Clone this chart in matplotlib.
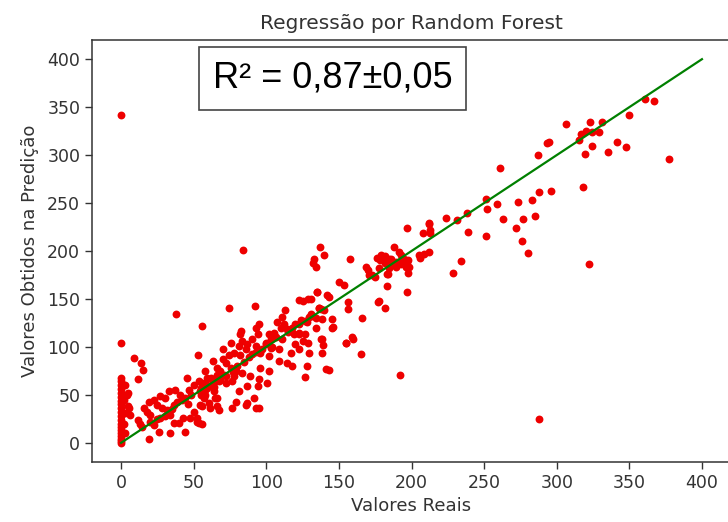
import matplotlib
matplotlib.use("Agg")
import matplotlib.pyplot as plt
import numpy as np

real_vals = [
    # vertical stack at x = 0
    0, 0, 0, 0, 0, 0, 0, 0, 0, 0, 0, 0, 0, 0, 0, 0, 0, 0, 0, 0, 0, 0,
    # near zero
    3, 4, 5, 6, 5, 5.5, 2, 3, 2, 3,
    9, 14, 15, 12, 12, 13, 14.5,
    # lower-left cluster
    15.6, 17.9, 20, 19, 22.5, 24.8, 27, 30.5, 28, 31.7, 34, 36.3, 38.6, 32.8, 37.4,
    40.8, 44, 46.6, 50, 53.5, 45.4, 54.6, 59, 65, 59, 68.4, 66, 66, 61.5, 54.6,
    50, 47.7, 52.3, 53.5, 43, 39.7, 36.3, 27, 26, 34, 44, 19, 22.5,
    # 55 - 125 region
    82.4, 81.7, 76, 83.5, 81, 86, 78, 82, 74, 70, 70, 63, 66, 72, 75.5, 79, 83.5,
    78, 71, 66, 67.5, 72, 76.6, 58, 61.7, 56, 58, 96, 102, 89, 95, 100.7,
    81, 87, 94, 91.6, 95, 86, 79, 67.5, 76.6, 65, 55, 57, 56, 60.6, 64, 58,
    102, 105, 103, 95, 92.7, 94, 90, 87, 92.7, 99.6, 103, 96, 90, 102, 109, 109,
    114.5, 118, 116.8, 113, 111, 112, 107.6, 110, 114.5, 120, 122.5, 119, 127,
    125, 120, 122.5, 138.6, 129.4, 141, 128, 127, 122.5, 129, 137.5, 139,
    52.5, 56, 87, 92.7,
    # points along the diagonal band (partly under the line)
    62, 68, 72, 77, 80, 85, 88, 93, 97, 100, 104, 107, 111, 115, 118, 124, 128,
    131, 134, 140, 42, 46, 48, 35, 30, 25, 20, 55, 58, 64,
    # 120 - 200 region
    137, 140, 133, 134.4, 132, 157.7, 150, 153.5, 156.5, 156.5, 143, 136, 130.6,
    125, 135, 165.7, 177, 182, 183, 145.5, 145, 134, 138.6, 137.5, 127, 122.5,
    154.7, 138.6, 129, 122.5, 197, 208, 213, 197, 208.6, 206, 205, 212,
    188, 191.4, 179, 176.5, 184.5, 182, 187, 193.7, 197, 196, 197.6, 189, 183,
    192.6, 168.5, 171, 175, 177.6, 180, 178, 182, 185.7, 192.6, 189.5, 186,
    194.8, 197.8, 198, 184.5, 183.8, 170, 173, 177.6, 136.3, 131.7, 129.4,
    146, 159, 135, 142,
    # 200 - 300 region
    212, 213, 212, 224, 231.5, 238, 251.5, 252, 259, 263, 239, 251, 273.5, 283,
    288, 296, 277, 285, 272, 276, 280, 234, 228.6, 261, 287, 293,
    # 290 - 380 region
    361, 367, 350, 323, 331, 306.6, 316.5, 320, 324.5, 329, 315, 324.5, 319.5,
    335.5, 341.7, 347.5, 377, 318, 294.7,
    # outliers
    155, 160, 165, 192, 288, 143, 322, 84, 38, 74, 92, 56, 52.8,
]
pred_vals = [
    0, 2, 4, 7, 10, 13, 16, 20, 24, 28, 32, 36, 40, 44, 48, 52, 56, 60, 64, 68, 104, 342,
    31, 50, 38, 29, 52, 36, 20, 10, 45, 60,
    88, 83, 76, 67, 24, 20, 17,
    36, 32.6, 29, 43, 45, 39.6, 48.4, 46.6, 36, 34.4, 29, 39.6, 43, 53.7, 55.5,
    50, 46.6, 55.5, 60.7, 64, 67.7, 53.7, 57, 64, 67.7, 74.7, 46.6, 38, 36, 39.6,
    32.6, 25.6, 25.6, 20.3, 25.6, 20.3, 20.3, 25.6, 11.6, 9.8, 11.6, 4.5, 18.6,
    117, 113, 104.5, 106, 101, 97.5, 94, 92, 92, 97.5, 87, 85, 78, 83.5, 78, 75, 73,
    69.5, 71, 71, 64, 62.4, 64, 75, 67.7, 62.4, 55.5, 78, 75, 69.5, 67, 62.4,
    53.7, 59, 59, 46.6, 36.8, 39.6, 43, 34.4, 36, 46.6, 57, 46.6, 38, 41.4, 53.7, 50,
    113, 115, 108, 124, 120, 113, 108, 103, 101, 103, 99, 94, 92.5, 90.5, 97.5, 85,
    83.5, 80, 94, 138, 131, 124, 125.6, 120, 118.6, 124, 115, 113, 113,
    106, 103, 97.5, 94, 94, 76.5, 80, 68.4, 149, 150, 108, 102,
    22, 20, 41, 36.8,
    60, 66, 70, 74, 80, 84, 90, 95, 98, 104, 100, 110, 108, 116, 120, 128, 126,
    134, 130, 138, 45, 40, 50, 35, 28, 25, 22, 50, 62, 58,
    204.5, 196, 192, 183.5, 187, 191.6, 167.7, 165, 146.6, 139.7, 152, 141, 150,
    148, 157, 130, 146.6, 140.7, 163, 120, 129, 120, 129, 139.7, 127, 124,
    104.5, 108, 104.5, 113, 224.5, 218.6, 219, 157, 196.5, 193, 196, 228.4,
    204.5, 199, 196, 193, 192, 187, 189, 192, 189, 183.5, 177, 183.5, 176.5,
    186, 183.5, 175, 173, 182, 193.4, 190.5, 194.7, 192, 196, 189, 185,
    192, 190.5, 183.5, 182, 176, 180.7, 175, 147.7, 141, 132.6, 131,
    121, 110, 157, 153.7,
    229, 222, 199, 234, 232.6, 240, 254, 244, 249, 233, 220, 216, 251, 253,
    261, 263, 233, 237, 224, 210.5, 197.6, 190, 177, 287, 300, 313,
    359, 356.5, 342, 334, 334, 332, 322, 325.6, 324.5, 324, 316, 310, 301,
    303.5, 314, 308, 296, 267, 314,
    104, 108, 93, 71, 24.5, 76, 186, 201, 134, 141, 143, 122, 92,
]

# identity reference line
line_vals = [0, 400]

title_text = "Regressão por Random Forest"
x_label = "Valores Reais"
y_label = "Valores Obtidos na Predição"
r2_text = "R² = 0,87±0,05"

fig = plt.figure(figsize=(7.28, 5.22), dpi=100)
ax = fig.add_axes([92 / 728, 60 / 522, 639 / 728, 422 / 522])

ax.scatter(real_vals, pred_vals, s=32, color="#ee0000", linewidths=0, zorder=2)
ax.plot(line_vals, line_vals, color="green", lw=1.6, zorder=3)

ax.set_xlim(-20, 420)
ax.set_ylim(-20, 420)
ax.set_xticks(np.arange(0, 401, 50))
ax.set_yticks(np.arange(0, 401, 50))

ax.tick_params(labelsize=12.5, length=5, width=1, colors="#333333", labelcolor="#333333")
for sp in ax.spines.values():
    sp.set_color("#333333")
    sp.set_linewidth(1.1)

ax.set_title(title_text, fontsize=14.5, color="#333333", pad=8)
ax.set_xlabel(x_label, fontsize=13, color="#333333", labelpad=4)
ax.set_ylabel(y_label, fontsize=13, color="#333333", labelpad=6)

ax.text(0.377, 0.909, r2_text, transform=ax.transAxes, ha="center", va="center",
        fontsize=26, family=["Liberation Sans", "DejaVu Sans"], color="black", zorder=5,
        bbox=dict(boxstyle="square,pad=0.38", facecolor="white", edgecolor="#444444", linewidth=1.2))

fig.savefig("out.png", dpi=100)
